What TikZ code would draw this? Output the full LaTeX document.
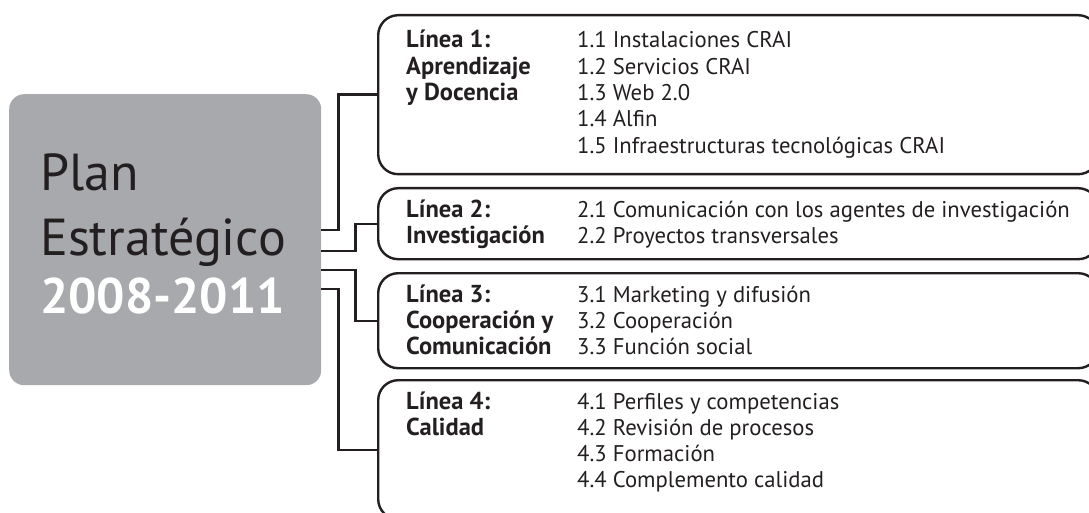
\documentclass[tikz,border=0pt]{standalone}
\usepackage{fontspec}
\setmainfont{PT Sans}
\usepackage{tikz}
\definecolor{planfill}{RGB}{167,169,172}
\definecolor{ink}{RGB}{35,31,32}
\newcommand{\lh}{26.3}
\newcommand{\colA}{406}
\newcommand{\colB}{577}
\newcommand{\drawlinea}[3]{\node[linebox, minimum height=#3pt, anchor=north west] (#1) at (377,#2) {};}
\newcommand{\labellines}[3]{\foreach \t [count=\i] in {#3} \node[labeltext] (#1-\i) at (\colA,#2+\lh*\i-\lh) {\t};}
\newcommand{\itemlines}[3]{\foreach \t [count=\i] in {#3} \node[itemtext] (#1-\i) at (\colB,#2+\lh*\i-\lh) {\t};}
\tikzset{
  linebox/.style={draw=ink, line width=2.4pt, rounded corners=20pt, minimum width=720pt, inner sep=0pt},
  planbox/.style={fill=planfill, rounded corners=15pt, minimum width=312pt, minimum height=291pt, inner sep=0pt},
  plantext/.style={anchor=base west, inner sep=0pt, font=\fontsize{52}{56}\selectfont, text=ink},
  labeltext/.style={anchor=base west, inner sep=0pt, font=\fontsize{24.5}{26}\selectfont\bfseries, text=ink},
  itemtext/.style={anchor=base west, inner sep=0pt, font=\fontsize{22.7}{26}\selectfont, text=ink},
  link/.style={draw=ink, line width=2.4pt}
}

\begin{document}
\begin{tikzpicture}[x=1pt,y=-1pt]
  \useasboundingbox (0,0) rectangle (1089,513);
  \clip (0,0) rectangle (1089,513);
  % central block
  \node[planbox, anchor=north west] (plan) at (9,94) {};
  \node[plantext] (plan-1) at (40,190) {Plan};
  \node[plantext] (plan-2) at (40,255) {Estratégico};
  \node[plantext, text=white, font=\fontsize{50}{56}\selectfont\bfseries] (plan-3) at (40,313) {2008-2011};
  % the four lines
  \drawlinea{l1}{14}{159}
  \drawlinea{l2}{187}{71}
  \drawlinea{l3}{272}{95}
  \drawlinea{l4}{379}{139}
  \labellines{lab1}{48}{Línea 1:, Aprendizaje, y Docencia}
  \itemlines{it1}{48}{1.1 Instalaciones CRAI, 1.2 Servicios CRAI, 1.3 Web 2.0, 1.4 Alfin, 1.5 Infraestructuras tecnológicas CRAI}
  \labellines{lab2}{217}{Línea 2:, Investigación}
  \itemlines{it2}{217}{2.1 Comunicación con los agentes de investigación, 2.2 Proyectos transversales}
  \labellines{lab3}{302}{Línea 3:, Cooperación y, Comunicación}
  \itemlines{it3}{302}{3.1 Marketing y difusión, 3.2 Cooperación, 3.3 Función social}
  \labellines{lab4}{409}{Línea 4:, Calidad}
  \itemlines{it4}{409}{4.1 Perfiles y competencias, 4.2 Revisión de procesos, 4.3 Formación, 4.4 Complemento calidad}
  % connectors
  \draw[link] ([yshift=9.5pt]plan.east) -- ++(17,0) |- (l1.west);
  \draw[link] ([yshift=-11.5pt]plan.east) -- ++(34,0) |- (l2.west);
  \draw[link] ([yshift=-30.5pt]plan.east) -- ++(34,0) |- (l3.west);
  \draw[link] ([yshift=-49.5pt]plan.east) -- ++(17,0) |- (l4.west);
\end{tikzpicture}
\end{document}
